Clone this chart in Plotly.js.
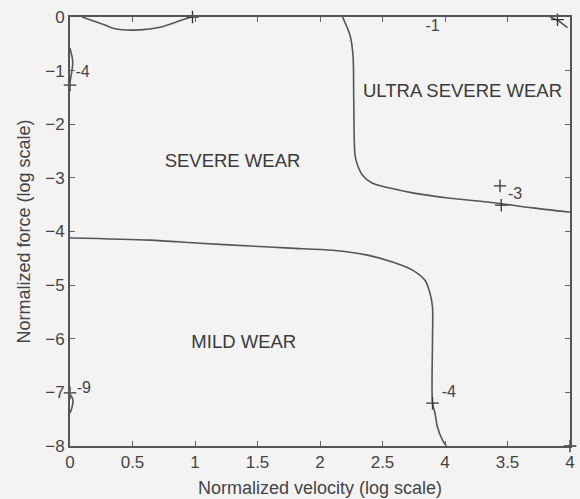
<!DOCTYPE html>
<html>
<head>
<meta charset="utf-8">
<script src="https://cdn.plot.ly/plotly-3.0.1.min.js"></script>
<style>html,body{margin:0;padding:0;background:#f3f3f3;}#chart{width:580px;height:499px;}</style>
</head>
<body>
<div id="chart"></div>
<script>
// Contour curves (normalized velocity vs normalized force, log scale)
const topLeftX = [0.096, 0.28, 0.36, 0.56, 0.72, 0.856, 0.944, 0.98];
const topLeftY = [0, -0.15, -0.22, -0.24, -0.19, -0.09, -0.02, 0];

const leftSmallX = [0, 0.018, 0.022, 0.014, 0.0];
const leftSmallY = [-0.58, -0.76, -0.86, -1.03, -1.21];

const cornerX = [3.84, 3.9, 3.98];
const cornerY = [0, -0.06, -0.2];

const ultraX = [2.18, 2.24, 2.264, 2.27, 2.28, 2.30, 2.34, 2.42, 2.56, 2.74, 3.04, 3.34, 3.70, 4.0];
const ultraY = [0, -0.34, -0.71, -1.55, -2.57, -2.76, -2.95, -3.10, -3.19, -3.28, -3.38, -3.45, -3.56, -3.64];

const mildX = [0, 0.64, 1.04, 1.44, 1.76, 2.10, 2.38, 2.58, 2.74, 2.84, 2.88, 2.90, 2.90, 2.90, 2.92, 2.94, 2.98, 3.01];
const mildY = [-4.12, -4.16, -4.22, -4.27, -4.31, -4.35, -4.44, -4.57, -4.72, -4.91, -5.15, -5.41, -6.03, -7.2, -7.39, -7.65, -7.89, -8];

const bottomSmallX = [0.008, 0.024, 0.016, 0.0];
const bottomSmallY = [-7.05, -7.15, -7.28, -7.39];

// "+" markers
const markX = [0.98, 0, 3.9, 3.44, 3.45, 2.90, 0, 4];
const markY = [0, -1.27, -0.05, -3.15, -3.51, -7.2, -7.01, -8];

// Contour value labels
const contourText = ["-1", "-4", "-3", "-4", "-9"];
const contourX = [2.9, 0.1, 3.56, 3.03, 0.11];
const contourY = [-0.19, -1.04, -3.32, -7.01, -6.93];

// Region labels
const regionText = ["ULTRA SEVERE WEAR", "SEVERE WEAR", "MILD WEAR"];
const regionX = [3.14, 1.30, 1.39];
const regionY = [-1.40, -2.72, -6.08];

// Axis ticks
const xTickVals = [0, 0.5, 1, 1.5, 2, 2.5, 3, 3.5, 4];
const xTickText = ["0", "0.5", "1", "1.5", "2", "2.5", "4", "3.5", "4"];
const yTickVals = [0, -1, -2, -3, -4, -5, -6, -7, -8];

const lineStyle = {color: '#555', width: 1.6, shape: 'spline', smoothing: 0.8};
function curve(x, y) {
  return {x: x, y: y, mode: 'lines', line: lineStyle, hoverinfo: 'skip', showlegend: false, cliponaxis: false};
}

const fam = 'Liberation Sans, Arial, sans-serif';
const traces = [
  curve(topLeftX, topLeftY),
  curve(leftSmallX, leftSmallY),
  curve(cornerX, cornerY),
  curve(ultraX, ultraY),
  curve(mildX, mildY),
  curve(bottomSmallX, bottomSmallY),
  {x: markX, y: markY, mode: 'markers', marker: {symbol: 'cross-thin-open', size: 9, color: '#333', line: {color: '#333', width: 1.3}}, showlegend: false, cliponaxis: false},
  {x: contourX, y: contourY, mode: 'text', text: contourText, textposition: 'middle center', textfont: {family: fam, size: 16, color: '#444'}, showlegend: false, cliponaxis: false},
  {x: regionX, y: regionY, mode: 'text', text: regionText, textposition: 'middle center', textfont: {family: fam, size: 18.5, color: '#3a3a3a'}, showlegend: false, cliponaxis: false}
];

const tickFont = {family: fam, size: 17, color: '#444'};
const titleFont = {family: fam, size: 18, color: '#444'};
const layout = {
  width: 580, height: 499,
  margin: {l: 70, r: 10, t: 17, b: 53},
  paper_bgcolor: '#f3f3f3',
  plot_bgcolor: '#f3f3f3',
  xaxis: {
    range: [0, 4], tickvals: xTickVals, ticktext: xTickText,
    showgrid: false, zeroline: false,
    showline: true, linecolor: '#555', linewidth: 2, mirror: 'ticks',
    ticks: 'inside', ticklen: 5, tickcolor: '#666', tickwidth: 1,
    tickfont: tickFont,
    title: {text: 'Normalized velocity (log scale)', font: titleFont, standoff: 10}
  },
  yaxis: {
    range: [-8, 0], tickvals: yTickVals,
    showgrid: false, zeroline: false,
    showline: true, linecolor: '#555', linewidth: 2, mirror: 'ticks',
    ticks: 'inside', ticklen: 5, tickcolor: '#666', tickwidth: 1,
    tickfont: tickFont,
    title: {text: 'Normalized force (log scale)', font: titleFont, standoff: 10}
  }
};

Plotly.newPlot('chart', traces, layout, {displayModeBar: false, staticPlot: true});
</script>
</body>
</html>
